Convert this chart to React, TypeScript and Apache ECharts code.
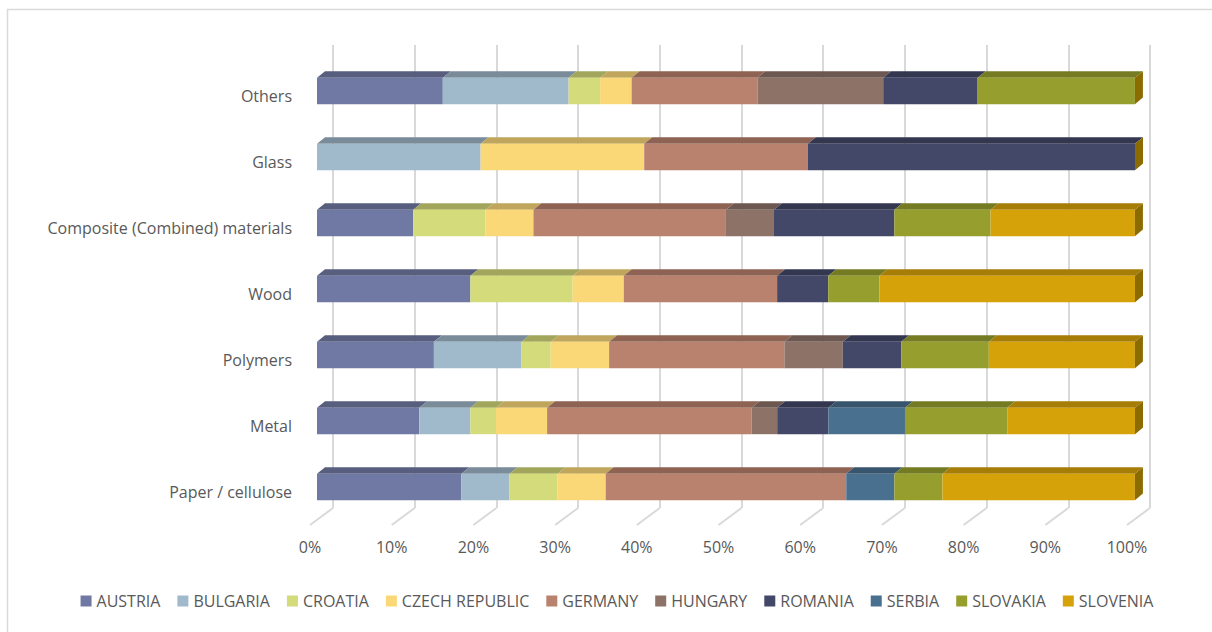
import React, { useEffect, useRef } from "react";
import * as echarts from "echarts";

// Categories, bottom to top as ECharts draws a category y axis
const CATEGORIES = [
  "Paper / cellulose",
  "Metal",
  "Polymers",
  "Wood",
  "Composite (Combined) materials",
  "Glass",
  "Others",
];

const COUNTRIES = [
  "AUSTRIA",
  "BULGARIA",
  "CROATIA",
  "CZECH REPUBLIC",
  "GERMANY",
  "HUNGARY",
  "ROMANIA",
  "SERBIA",
  "SLOVAKIA",
  "SLOVENIA",
];

// Share (%) per category, same order as CATEGORIES
const AUSTRIA = [17.65, 12.5, 14.29, 18.75, 11.76, 0, 15.38];
const BULGARIA = [5.88, 6.25, 10.71, 0, 0, 20, 15.38];
const CROATIA = [5.88, 3.13, 3.57, 12.5, 8.82, 0, 3.85];
const CZECH_REPUBLIC = [5.88, 6.25, 7.14, 6.25, 5.88, 20, 3.85];
const GERMANY = [29.41, 25, 21.43, 18.75, 23.53, 20, 15.38];
const HUNGARY = [0, 3.13, 7.14, 0, 5.88, 0, 15.38];
const ROMANIA = [0, 6.25, 7.14, 6.25, 14.71, 40, 11.54];
const SERBIA = [5.88, 9.37, 0, 0, 0, 0, 0];
const SLOVAKIA = [5.88, 12.5, 10.71, 6.25, 11.76, 0, 19.23];
const SLOVENIA = [23.53, 15.62, 17.86, 31.25, 17.65, 0, 0];

const VALUES = [
  AUSTRIA,
  BULGARIA,
  CROATIA,
  CZECH_REPUBLIC,
  GERMANY,
  HUNGARY,
  ROMANIA,
  SERBIA,
  SLOVAKIA,
  SLOVENIA,
];

const COLORS = [
  "#7079A3",
  "#A0BACC",
  "#D3DB7A",
  "#FAD878",
  "#B8826F",
  "#8C7267",
  "#434868",
  "#4A7090",
  "#969F2E",
  "#D6A20A",
];

const TOP_COLORS = [
  "#575E7E",
  "#7A8B99",
  "#A1A65C",
  "#C0A65C",
  "#8E6353",
  "#6C5850",
  "#33374F",
  "#38556E",
  "#747B23",
  "#A67D06",
];

const TICKS = [0, 10, 20, 30, 40, 50, 60, 70, 80, 90, 100];

const SIDE_COLOR = "#8C6C00";
const TEXT_COLOR = "#595959";
const FONT = "'Open Sans', sans-serif";

export default function App() {
  const ref = useRef<HTMLDivElement>(null);

  useEffect(() => {
    if (!ref.current) return;
    const chart = echarts.init(ref.current, undefined, { renderer: "svg" });

    const cum = CATEGORIES.map(() => 0);
    const barSeries = COUNTRIES.map((name, si) => {
      const data: number[][] = [];
      VALUES[si].forEach((v, ci) => {
        const start = cum[ci];
        const end = start + v;
        cum[ci] = end;
        if (v > 0) data.push([ci, start, end]);
      });
      return {
        type: "custom",
        name,
        xAxisIndex: 1,
        yAxisIndex: 1,
        itemStyle: { color: COLORS[si] },
        encode: { y: 0, x: [1, 2] },
        data,
        renderItem: (params: any, api: any) => {
          const cat = api.value(0);
          const s = api.value(1);
          const e = api.value(2);
          const p0 = api.coord([s, cat]);
          const p1 = api.coord([e, cat]);
          const band = api.size([0, 1])[1];
          const h = band * 0.4;
          const x0 = p0[0];
          const x1 = p1[0];
          const yt = p0[1] - h / 2;
          const yb = p0[1] + h / 2;
          const dx = 8;
          const dy = 6.6;
          const children: any[] = [
            {
              type: "polygon",
              shape: {
                points: [
                  [x0, yt],
                  [x1, yt],
                  [x1 + dx, yt - dy],
                  [x0 + dx, yt - dy],
                ],
              },
              style: { fill: TOP_COLORS[si] },
            },
            {
              type: "rect",
              shape: { x: x0, y: yt, width: x1 - x0, height: h },
              style: { fill: COLORS[si] },
            },
          ];
          if (e >= 99.9) {
            children.push({
              type: "polygon",
              shape: {
                points: [
                  [x1, yt],
                  [x1 + dx, yt - dy],
                  [x1 + dx, yb - dy],
                  [x1, yb],
                ],
              },
              style: { fill: SIDE_COLOR },
            });
          }
          return { type: "group", children };
        },
      };
    });

    const floorSeries = {
      type: "custom",
      name: "floor",
      xAxisIndex: 0,
      yAxisIndex: 0,
      silent: true,
      encode: { x: 0 },
      data: TICKS.map((t) => [t]),
      renderItem: (params: any, api: any) => {
        const p = api.coord([api.value(0), 0]);
        return {
          type: "line",
          shape: { x1: p[0], y1: p[1], x2: p[0] - 23, y2: p[1] + 17 },
          style: { stroke: "#d9d9d9", lineWidth: 2 },
        };
      },
    };

    chart.setOption({
      animation: false,
      backgroundColor: "#ffffff",
      graphic: [
        {
          type: "rect",
          shape: { x: 7.5, y: 9.5, width: 1400, height: 800 },
          style: { fill: "none", stroke: "#d9d9d9", lineWidth: 1.5 },
          silent: true,
          z: -10,
        },
      ],
      grid: [
        { left: 333, width: 817, top: 45, height: 463 },
        { left: 317, width: 818, top: 58, height: 462 },
        { left: 310, width: 817, top: 63, height: 462 },
      ],
      xAxis: [
        {
          gridIndex: 0,
          type: "value",
          min: 0,
          max: 100,
          interval: 10,
          axisLine: { show: false },
          axisTick: { show: false },
          axisLabel: { show: false },
          splitLine: { show: true, lineStyle: { color: "#d9d9d9", width: 2 } },
        },
        {
          gridIndex: 1,
          type: "value",
          min: 0,
          max: 100,
          show: false,
        },
        {
          gridIndex: 2,
          type: "value",
          min: 0,
          max: 100,
          interval: 10,
          axisLine: { show: false },
          axisTick: { show: false },
          splitLine: { show: false },
          axisLabel: {
            formatter: "{value}%",
            color: TEXT_COLOR,
            fontFamily: FONT,
            fontSize: 16,
            margin: 14,
          },
        },
      ],
      yAxis: [
        { gridIndex: 0, type: "value", min: 0, max: 1, show: false },
        {
          gridIndex: 1,
          type: "category",
          data: CATEGORIES,
          show: false,
        },
        {
          gridIndex: 2,
          type: "category",
          data: CATEGORIES,
          axisLine: { show: false },
          axisTick: { show: false },
          splitLine: { show: false },
          axisLabel: {
            color: TEXT_COLOR,
            fontFamily: FONT,
            fontSize: 16,
            margin: 18,
          },
        },
      ],
      legend: {
        data: COUNTRIES,
        left: "center",
        top: 588,
        icon: "rect",
        itemWidth: 11,
        itemHeight: 11,
        itemGap: 17,
        textStyle: { color: TEXT_COLOR, fontFamily: FONT, fontSize: 16 },
        selectedMode: false,
      },
      series: [floorSeries, ...barSeries],
    });

    return () => chart.dispose();
  }, []);

  return (
    <div
      style={{
        position: "fixed",
        left: 0,
        top: 0,
        width: 1212,
        height: 632,
        overflow: "hidden",
        background: "#fff",
      }}
    >
      <div ref={ref} style={{ width: 1234, height: 632 }} />
    </div>
  );
}
